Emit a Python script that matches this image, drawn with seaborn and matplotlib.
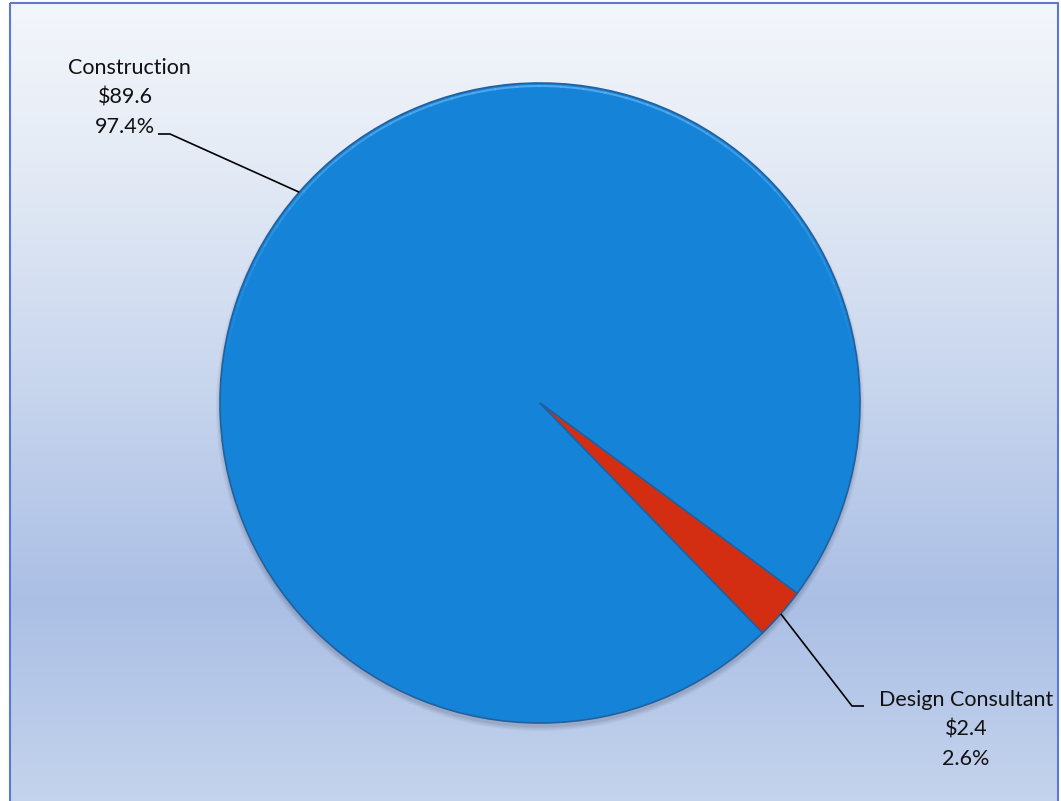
import numpy as np
import matplotlib
matplotlib.use("Agg")
import matplotlib.pyplot as plt
import seaborn as sns
from matplotlib.patches import Rectangle, Circle, Arc

categories = ["Construction", "Design Consultant"]
values = [89.6, 2.4]
percents = ["97.4%", "2.6%"]
money = ["$89.6", "$2.4"]

sns.set_theme(style="white")
plt.rcParams['font.family'] = ['Lato', 'DejaVu Sans']

W, H = 1061, 801
fig = plt.figure(figsize=(W / 100, H / 100), dpi=100)

# background gradient
bg = fig.add_axes([0, 0, 1, 1])
bg.set_xlim(0, W)
bg.set_ylim(H, 0)
bg.axis("off")
stops_y = np.array([0, 150, 350, 600, 801])
stops_c = np.array([
    [0.955, 0.965, 0.985],
    [0.90, 0.925, 0.965],
    [0.80, 0.85, 0.935],
    [0.67, 0.75, 0.90],
    [0.77, 0.83, 0.93],
])
ys = np.arange(H)
grad = np.stack([np.interp(ys, stops_y, stops_c[:, i]) for i in range(3)], axis=-1)
grad = np.repeat(grad[:, None, :], 2, axis=1)
bg.imshow(grad, extent=[10, 1058, H, 3], aspect="auto", zorder=0)
bg.add_patch(Rectangle((10, 3), 1048, 810, fill=False, edgecolor="#5b78d6", lw=1.5, zorder=1))

ax = fig.add_axes([0, 0, 1, 1])
ax.set_xlim(0, W)
ax.set_ylim(0, H)
ax.axis("off")
ax.patch.set_alpha(0)

colors = ["#1584d8", "#d42e12"]
cx, cy, r = 540, H - 403, 320

# soft drop shadow beneath the pie
for k, a in enumerate([0.05, 0.05, 0.06, 0.08]):
    ax.add_patch(Circle((cx, cy - 4), r + 4 - k * 1.2, color="#303850", alpha=a, lw=0, zorder=0))

wedges, _ = ax.pie(values, colors=colors, startangle=-45.9, counterclock=False,
                   center=(cx, cy), radius=r, frame=True,
                   wedgeprops=dict(edgecolor="#22609e", linewidth=1.2))
ax.set_xlim(0, W)
ax.set_ylim(0, H)
ax.axis("off")

# bevel highlight on upper rim, fading toward the sides
for a0 in range(10, 170, 4):
    mid = a0 + 2 - 90
    alpha = 0.8 * np.cos(np.deg2rad(mid)) ** 1.5
    ax.add_patch(Arc((cx, cy), 2 * r - 6, 2 * r - 6, theta1=a0, theta2=a0 + 4.3,
                     color="#5fb0f0", lw=1.5, alpha=alpha, zorder=3))

# labels with leader lines
label_pos = [(125, H - 68), (966, H - 700)]
elbows = [[(170, H - 134), (158, H - 134)], [(852, H - 706), (864, H - 706)]]
for w, cat, m, p, (tx, ty), el in zip(wedges, categories, money, percents, label_pos, elbows):
    mid = np.deg2rad((w.theta1 + w.theta2) / 2)
    ax_pt = (cx + r * np.cos(mid), cy + r * np.sin(mid))
    xs = [ax_pt[0], el[0][0], el[1][0]]
    yv = [ax_pt[1], el[0][1], el[1][1]]
    ax.plot(xs, yv, color="black", lw=1.2, solid_capstyle="butt", zorder=4)
    for k, t in enumerate([cat, m, p]):
        ax.text(tx + (4 if k == 0 and tx < 500 else 0), ty - k * 29.5, t,
                ha="center", va="center", fontsize=15.5, color="#111111")

fig.savefig("out.png", dpi=100)
